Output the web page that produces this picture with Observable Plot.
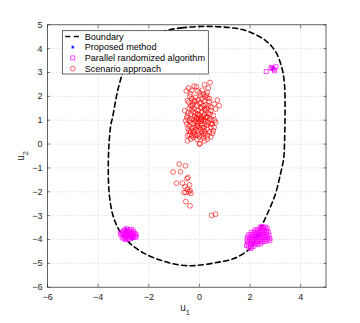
<!DOCTYPE html>
<html><head><meta charset="utf-8">
<script src="https://cdn.jsdelivr.net/npm/d3@7"></script>
<script src="https://cdn.jsdelivr.net/npm/@observablehq/plot@0.6"></script>
<style>
body{margin:0;background:#fff;}
#wrap{position:relative;width:360px;height:323px;}
</style>
</head><body><div id="wrap"></div>
<script>
const xTicks = [-6, -4, -2, 0, 2, 4];
const yTicks = [-6, -5, -4, -3, -2, -1, 0, 1, 2, 3, 4, 5];
const legendLabels = ["Boundary", "Proposed method", "Parallel randomized algorithm", "Scenario approach"];
const xLabel = ["u", "1"];
const yLabel = ["u", "2"];

const boundary = [
  [-1.26,4.77],[-0.7,4.87],[0.05,4.93],[0.7,4.92],[1.3,4.87],[1.7,4.8],[2.2,4.6],[2.6,4.35],[2.85,4.1],
  [3.05,3.8],[3.2,3.4],[3.3,3.0],[3.36,2.5],[3.38,2.0],[3.38,1.0],[3.36,0.0],[3.33,-0.6],[3.2,-1.26],
  [3.0,-2.1],[2.68,-2.93],[2.45,-3.45],[2.25,-3.9],[2.08,-4.28],[1.9,-4.47],[1.36,-4.8],[0.71,-4.96],
  [0.05,-5.07],[-0.35,-5.1],[-0.85,-5.06],[-1.5,-4.88],[-2.2,-4.57],[-2.7,-4.2],[-2.97,-3.91],
  [-3.23,-3.49],[-3.43,-2.93],[-3.56,-2.1],[-3.6,-1.0],[-3.57,0.0],[-3.5,0.8],[-3.43,1.12],[-3.33,1.7],
  [-3.23,2.23],[-3.07,2.86],[-2.9,3.4],[-2.6,3.9],[-2.2,4.3],[-1.8,4.55]
];

const scenario = [
  [0.42,2.58],[0.20,2.49],[-0.21,2.43],[-0.43,2.35],[-0.52,2.23],[-0.08,2.23],[0.12,2.26],[0.31,2.16],
  [-0.38,2.0],[0.05,2.03],[0.31,1.93],[0.71,1.84],[-0.47,1.82],[-0.21,1.82],[0.58,1.68],[0.78,1.61],
  [-0.34,1.61],[-0.58,1.40],[0.05,1.54],[0.25,1.40],[0.64,1.47],[-0.08,1.26],[-0.47,1.19],[-0.54,0.98],
  [-0.21,1.05],[0.05,1.05],[0.31,1.12],[0.64,0.91],[0.45,0.84],[-0.41,0.77],[-0.08,0.77],[0.18,0.70],
  [0.58,0.70],[-0.41,0.56],[-0.21,0.49],[0.31,0.63],[0.51,0.45],[-0.47,0.35],[-0.14,0.35],[0.18,0.42],
  [-0.34,0.21],[-0.47,0.14],[-0.24,0.28],[0.31,0.21],[0.0,0.0],[0.02,0.02],[0.21,0.14],[0.45,0.30],
  [0.55,0.55],[0.5,1.0],[0.42,1.25],[0.45,1.55],[0.38,1.78],[0.15,2.1],[-0.3,2.25],[-0.12,2.4],
  [0.35,2.35],[0.28,2.05],
  [-0.3,1.9],[-0.25,1.7],[-0.15,1.95],[-0.05,1.85],[0.1,1.9],[0.2,1.8],[0.25,1.65],[0.35,1.6],
  [0.3,1.5],[0.15,1.6],[0.0,1.7],[-0.1,1.6],[-0.2,1.5],[-0.3,1.45],[-0.4,1.5],[-0.45,1.3],
  [-0.35,1.25],[-0.25,1.35],[-0.15,1.3],[-0.05,1.4],[0.1,1.35],[0.2,1.25],[0.35,1.3],[0.3,1.15],
  [0.15,1.15],[0.0,1.2],[-0.1,1.1],[-0.2,1.15],[-0.3,1.05],[-0.4,1.0],[-0.35,0.9],[-0.25,0.85],
  [-0.15,0.95],[-0.05,0.9],[0.05,0.95],[0.15,1.0],[0.25,0.95],[0.35,0.9],[0.3,0.8],[0.2,0.85],
  [0.1,0.8],[0.0,0.7],[-0.1,0.75],[-0.2,0.7],[-0.3,0.65],[-0.35,0.5],[-0.25,0.55],[-0.15,0.6],
  [-0.05,0.55],[0.05,0.6],[0.1,0.5],[0.2,0.55],[0.25,0.45],[0.1,0.35],[-0.05,0.4],[-0.2,0.4],
  [-0.3,0.35],[0.05,1.1],[-0.12,1.05],[-0.02,1.0],[0.08,1.05],[-0.08,0.85],[0.12,0.68],[0.4,1.05],
  [0.45,0.7],[0.4,0.5],[-0.45,0.65],[-0.5,0.85],[-0.5,1.1],[-0.42,1.75],[-0.35,2.1],[0.0,2.15],
  [0.22,2.0],[0.4,1.9],[0.45,1.4],[0.55,1.2],[0.6,1.0],[0.2,1.45],[0.08,1.5],[-0.05,1.25],
  [-0.18,1.8],[0.05,1.75],[0.25,1.1],[0.32,0.35],[-0.1,0.2],[0.0,0.3],[0.15,0.25],[-0.4,0.4],
  [0.5,0.85],[-0.28,1.6],
  [-0.80,-0.84],[-0.55,-0.91],[-1.04,-1.17],[-0.75,-1.16],[-0.45,-1.40],[-0.49,-1.45],[-0.91,-1.64],
  [-0.67,-1.64],[-0.39,-1.71],[-0.57,-1.78],[-0.47,-1.89],[-0.61,-2.03],[-0.53,-2.03],[-0.41,-2.0],
  [-0.34,-2.07],[-0.37,-1.95],[-0.54,-2.41],[-0.37,-2.59],[0.48,-2.99],[0.64,-2.94]
];

const parallel = [
  [-3.1,-3.8],[-3.05,-3.7],[-3.05,-3.9],[-3.0,-3.65],[-3.0,-3.8],[-3.0,-3.95],[-2.95,-3.6],[-2.95,-3.75],
  [-2.95,-3.88],[-2.9,-3.7],[-2.9,-3.82],[-2.9,-3.95],[-2.85,-3.62],[-2.85,-3.76],[-2.85,-3.9],[-2.8,-3.68],
  [-2.8,-3.8],[-2.8,-3.95],[-2.75,-3.6],[-2.75,-3.74],[-2.75,-3.86],[-2.7,-3.68],[-2.7,-3.8],[-2.7,-3.92],
  [-2.65,-3.72],[-2.65,-3.85],[-2.6,-3.65],[-2.6,-3.8],[-2.6,-3.92],[-2.55,-3.75],[-2.55,-3.88],[-2.5,-3.8],
  [-2.5,-3.9],[-3.12,-3.72],[-2.88,-3.55],[-2.78,-4.0],[-2.92,-4.0],[-2.68,-3.58],
  [2.4,-3.5],[2.5,-3.48],[2.55,-3.52],[2.2,-3.6],[2.3,-3.58],[2.4,-3.6],[2.5,-3.6],[2.6,-3.62],[2.68,-3.55],
  [2.05,-3.7],[2.15,-3.7],[2.25,-3.68],[2.35,-3.7],[2.45,-3.7],[2.55,-3.72],[2.65,-3.7],[2.72,-3.68],
  [1.95,-3.8],[2.05,-3.8],[2.15,-3.8],[2.25,-3.78],[2.35,-3.8],[2.45,-3.8],[2.55,-3.8],[2.65,-3.8],[2.75,-3.82],
  [1.9,-3.9],[2.0,-3.9],[2.1,-3.9],[2.2,-3.88],[2.3,-3.9],[2.4,-3.9],[2.5,-3.9],[2.6,-3.9],[2.7,-3.92],[2.78,-3.95],
  [1.88,-4.0],[1.98,-4.0],[2.08,-4.0],[2.18,-4.0],[2.28,-4.0],[2.38,-4.0],[2.48,-4.0],[2.58,-4.0],[2.68,-4.02],[2.78,-4.05],
  [1.9,-4.1],[2.0,-4.1],[2.1,-4.1],[2.2,-4.1],[2.3,-4.1],[2.4,-4.08],[2.5,-4.1],[2.6,-4.08],
  [1.92,-4.2],[2.02,-4.2],[2.12,-4.2],[2.22,-4.18],[2.32,-4.2],[2.42,-4.18],
  [1.95,-4.3],[2.05,-4.32],[2.15,-4.28],[1.86,-4.25],[2.02,-4.38],[2.45,-3.45],[2.62,-3.48],
  [2.64,3.04],[2.83,3.21],[2.94,3.14],[3.02,3.24],[2.97,3.07],[2.87,3.17]
];

const proposed = [
  [-2.9,-3.6],[-2.64,-3.95],[-2.8,-3.8],[-2.85,-3.75],[-2.75,-3.85],
  [2.3,-3.85],[2.2,-3.9],[2.4,-3.8],[2.9,3.18]
];

const colors = {boundary:"#000000", proposed:"#0000ff", parallel:"#ff00ff", scenario:"#ff0000"};
const minus = d => d < 0 ? "\u2212" + (-d) : String(d);
const font = "Liberation Sans, Arial, Helvetica, sans-serif";

const chart = Plot.plot({
  width: 360, height: 323,
  marginLeft: 47, marginRight: 34.5, marginTop: 24.3, marginBottom: 36.3,
  style: {fontFamily: font, fontSize: "9px", color: "#262626", background: "#fff"},
  x: {domain: [-6, 5]},
  y: {domain: [-6, 5]},
  marks: [
    Plot.gridX(xTicks, {stroke: "#b0b0b0", strokeOpacity: 0.6, strokeDasharray: "1.5,1.5", strokeWidth: 0.6}),
    Plot.gridY(yTicks, {stroke: "#b0b0b0", strokeOpacity: 0.6, strokeDasharray: "1.5,1.5", strokeWidth: 0.6}),
    Plot.line(boundary, {x: d => d[0], y: d => d[1], curve: "catmull-rom-closed", stroke: colors.boundary, strokeWidth: 1.6, strokeDasharray: "5,3.5"}),
    Plot.dot(proposed, {x: d => d[0], y: d => d[1], symbol: "asterisk", r: 2.3, stroke: colors.proposed, strokeWidth: 0.9}),
    Plot.dot(parallel, {x: d => d[0], y: d => d[1], symbol: "square", r: 2.3, stroke: colors.parallel, strokeWidth: 0.7, fill: "none"}),
    Plot.dot(scenario, {x: d => d[0], y: d => d[1], symbol: "circle", r: 2.4, stroke: colors.scenario, strokeWidth: 0.6, fill: "none"}),
    Plot.frame({stroke: "#262626", strokeWidth: 0.7}),
    Plot.axisX(xTicks, {anchor: "bottom", tickSize: -3, tickPadding: 9, label: null, tickFormat: minus, stroke: "#262626", strokeWidth: 0.6}),
    Plot.axisX(xTicks, {anchor: "top", tickSize: -3, label: null, tickFormat: () => "", stroke: "#262626", strokeWidth: 0.6}),
    Plot.axisY(yTicks, {anchor: "left", tickSize: -3, tickPadding: 8, label: null, tickFormat: minus, stroke: "#262626", strokeWidth: 0.6}),
    Plot.axisY(yTicks, {anchor: "right", tickSize: -3, label: null, tickFormat: () => "", stroke: "#262626", strokeWidth: 0.6})
  ]
});

document.getElementById("wrap").appendChild(chart);
const svg = d3.select(chart);

// axis labels with subscripts
const xl = svg.append("text").attr("x", 185).attr("y", 311).attr("text-anchor", "middle")
  .attr("font-family", font).attr("font-size", 10).attr("fill", "#262626");
xl.append("tspan").text(xLabel[0]);
xl.append("tspan").attr("dy", 3.5).attr("font-size", 7.5).text(xLabel[1]);

const yl = svg.append("text").attr("transform", "translate(24,156) rotate(-90)").attr("text-anchor", "middle")
  .attr("font-family", font).attr("font-size", 10).attr("fill", "#262626");
yl.append("tspan").text(yLabel[0]);
yl.append("tspan").attr("dy", 3.5).attr("font-size", 7.5).text(yLabel[1]);

// legend
const lg = svg.append("g").attr("transform", "translate(62.3,30.7)").attr("text-anchor", "start");
lg.append("rect").attr("width", 146).attr("height", 43.3).attr("fill", "#fff").attr("stroke", "#262626").attr("stroke-width", 0.7);
legendLabels.forEach((lab, i) => {
  const cy = 5.8 + i * 10.7;
  const g = lg.append("g").attr("transform", `translate(0,${cy})`);
  if (i === 0) {
    g.append("line").attr("x1", 3).attr("x2", 18).attr("y1", 0).attr("y2", 0)
      .attr("stroke", colors.boundary).attr("stroke-width", 1.6).attr("stroke-dasharray", "5,3.5");
  } else if (i === 1) {
    const s = 1.6;
    [[0, 1], [0.866, 0.5], [0.866, -0.5]].forEach(([a, b]) =>
      g.append("line").attr("x1", 10.5 - a * s).attr("y1", -b * s).attr("x2", 10.5 + a * s).attr("y2", b * s)
        .attr("stroke", colors.proposed).attr("stroke-width", 0.9));
  } else if (i === 2) {
    g.append("rect").attr("x", 8.5).attr("y", -2).attr("width", 4).attr("height", 4)
      .attr("fill", "none").attr("stroke", colors.parallel).attr("stroke-width", 0.7);
  } else {
    g.append("circle").attr("cx", 10.5).attr("cy", 0).attr("r", 2.4)
      .attr("fill", "none").attr("stroke", colors.scenario).attr("stroke-width", 0.6);
  }
  g.append("text").attr("x", 22.4).attr("y", 0).attr("dy", "0.35em").attr("text-anchor", "start")
    .attr("font-family", font).attr("font-size", 9.1).attr("fill", "#000").text(lab);
});
</script>
</body></html>
